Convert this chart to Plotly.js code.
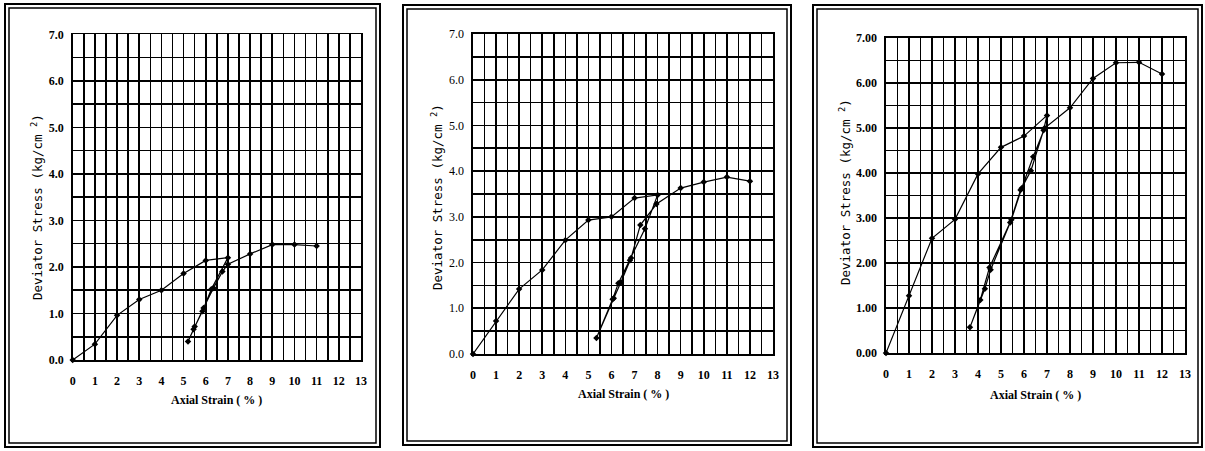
<!DOCTYPE html>
<html><head><meta charset="utf-8">
<script src="https://cdn.plot.ly/plotly-3.0.1.min.js"></script>
<style>body{margin:0;padding:0;background:#fff}#chart{width:1205px;height:451px}</style>
</head><body><div id="chart"></div>
<script>
// Panel 1 (loading - unloading - reloading)
const strain1 = [0,1,2,3,4,5,6,7, 6.25,5.85,5.45,5.2, 5.5,5.9,6.35,6.75,7.0, 8,9,10,11];
const stress1 = [0,0.34,0.96,1.3,1.5,1.86,2.14,2.2, 1.52,1.05,0.66,0.4, 0.72,1.12,1.55,1.9,2.06, 2.28,2.48,2.48,2.45];
// Panel 2
const strain2 = [0,1,2,3,4,5,6,7,8, 7.45,6.8,6.3,6.05,5.35, 6.1,6.4,6.85,7.25,7.95, 9,10,11,12];
const stress2 = [0,0.72,1.42,1.84,2.49,2.93,3.0,3.41,3.48, 2.74,2.05,1.55,1.2,0.35, 1.22,1.56,2.1,2.82,3.28, 3.63,3.76,3.87,3.78];
// Panel 3
const strain3 = [0,1,2,3,4,5,6,7, 6.85,6.3,5.85,5.4,4.55,4.3,3.65, 4.1,4.5,5.45,5.9,6.4,6.9, 8,9,10,11,12];
const stress3 = [0,1.27,2.55,2.97,3.98,4.57,4.82,5.28, 4.95,4.05,3.62,2.9,1.85,1.43,0.57, 1.18,1.9,2.96,3.66,4.36,5.0, 5.45,6.1,6.45,6.46,6.2];
const xTicks = ["0","1","2","3","4","5","6","7","8","9","10","11","12","13"];
const yTicks12 = ["0.0","1.0","2.0","3.0","4.0","5.0","6.0","7.0"];
const yTicks3 = ["0.00","1.00","2.00","3.00","4.00","5.00","6.00","7.00"];
const xTitle = "Axial Strain ( % )";
const yTitle = "Deviator Stress (kg/cm <sup>2</sup>)";

const W = 1205, H = 451;
const px = v => v / W, py = v => 1 - v / H;

const panels = [
  {x: strain1, y: stress1, xd: [72.7, 361], yd: [34.3, 360], ylab: yTicks12, bold: true, frame: [5, 380, 4, 447], yt: 37, ytc: 207, xt: 216, xty: 400},
  {x: strain2, y: stress2, xd: [473, 773], yd: [34, 354], ylab: yTicks12, bold: false, frame: [403, 791, 5, 445], yt: 437, ytc: 197, xt: 623, xty: 394},
  {x: strain3, y: stress3, xd: [886, 1185], yd: [38, 353], ylab: yTicks3, bold: true, frame: [813, 1202, 5, 447], yt: 845, ytc: 192, xt: 1035, xty: 395}
];

const data = [], layout = {
  width: W, height: H, margin: {l:0, r:0, t:0, b:0},
  paper_bgcolor: '#fff', plot_bgcolor: '#fff', showlegend: false,
  shapes: [], annotations: []
};

panels.forEach((p, i) => {
  const n = i === 0 ? '' : String(i + 1);
  data.push({
    x: p.x, y: p.y, xaxis: 'x' + n, yaxis: 'y' + n, type: 'scatter', mode: 'lines+markers',
    line: {color: '#000', width: 1.2}, marker: {color: '#000', size: 5, symbol: 'diamond'},
    cliponaxis: false
  });
  layout['xaxis' + n] = {
    domain: [px(p.xd[0]), px(p.xd[1])], anchor: 'y' + n, range: [0, 13],
    tickmode: 'array', tickvals: xTicks.map((t, k) => k), ticktext: xTicks,
    showgrid: true, gridcolor: '#000', gridwidth: 1.6,
    minor: {tickmode: 'linear', tick0: 0, dtick: 0.5, showgrid: true, gridcolor: '#000', gridwidth: 1.6, ticks: ''},
    ticks: 'outside', ticklen: 9, tickcolor: 'rgba(0,0,0,0)',
    showline: true, linecolor: '#000', linewidth: 1.6, mirror: true, zeroline: false,
    tickfont: {family: 'Liberation Serif, serif', size: 12, color: '#000', weight: 'bold'}
  };
  layout['yaxis' + n] = {
    domain: [py(p.yd[1]), py(p.yd[0])], anchor: 'x' + n, range: [0, 7],
    tickmode: 'array', tickvals: p.ylab.map((t, k) => k), ticktext: p.ylab,
    showgrid: true, gridcolor: '#000', gridwidth: 1.6,
    minor: {tickmode: 'linear', tick0: 0, dtick: 0.5, showgrid: true, gridcolor: '#000', gridwidth: 1.6, ticks: ''},
    ticks: 'outside', ticklen: 5, tickcolor: 'rgba(0,0,0,0)',
    showline: true, linecolor: '#000', linewidth: 1.6, mirror: true, zeroline: false,
    tickfont: {family: 'Liberation Serif, serif', size: 12, color: '#000', weight: p.bold ? 'bold' : 'normal'}
  };
  const f = p.frame;
  layout.shapes.push({type: 'rect', xref: 'paper', yref: 'paper', x0: px(f[0]), x1: px(f[1]), y0: py(f[3]), y1: py(f[2]), line: {color: '#000', width: 2}});
  layout.shapes.push({type: 'rect', xref: 'paper', yref: 'paper', x0: px(f[0] + 4), x1: px(f[1] - 4), y0: py(f[3] - 4), y1: py(f[2] + 4), line: {color: '#000', width: 1.5}});
  layout.annotations.push({xref: 'paper', yref: 'paper', x: px(p.yt), y: py(p.ytc), text: yTitle, textangle: -90,
    showarrow: false, xanchor: 'center', yanchor: 'middle', font: {family: 'DejaVu Sans Mono, monospace', size: 12.5, color: '#000'}});
  layout.annotations.push({xref: 'paper', yref: 'paper', x: px(p.xt), y: py(p.xty), text: xTitle,
    showarrow: false, xanchor: 'center', yanchor: 'middle', font: {family: 'Liberation Serif, serif', size: 12, color: '#000', weight: 'bold'}});
});

Plotly.newPlot('chart', data, layout, {staticPlot: true, displayModeBar: false});
</script></body></html>
